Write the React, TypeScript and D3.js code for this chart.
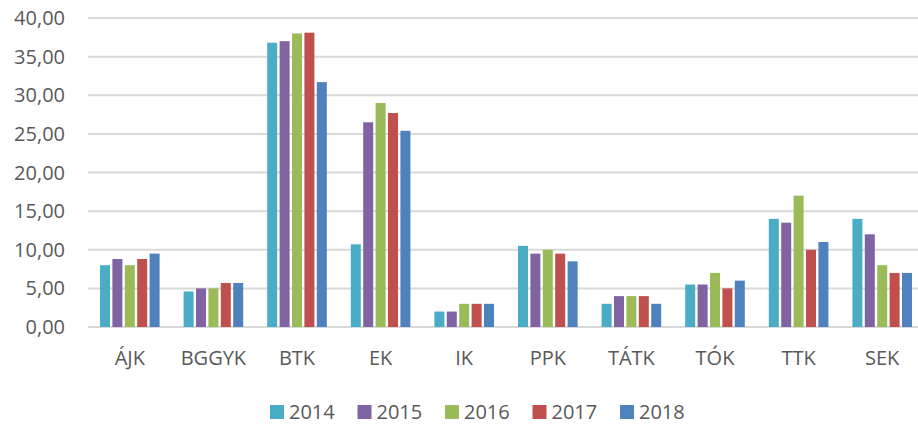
import React from "react";
import * as d3 from "d3";

const categories = ["ÁJK", "BGGYK", "BTK", "EK", "IK", "PPK", "TÁTK", "TÓK", "TTK", "SEK"];
const years = ["2014", "2015", "2016", "2017", "2018"];
const v2014 = [8.0, 4.6, 36.8, 10.7, 2.0, 10.5, 3.0, 5.5, 14.0, 14.0];
const v2015 = [8.8, 5.0, 37.0, 26.5, 2.0, 9.5, 4.0, 5.5, 13.5, 12.0];
const v2016 = [8.0, 5.0, 38.0, 29.0, 3.0, 10.0, 4.0, 7.0, 17.0, 8.0];
const v2017 = [8.8, 5.7, 38.1, 27.7, 3.0, 9.5, 4.0, 5.0, 10.0, 7.0];
const v2018 = [9.5, 5.7, 31.7, 25.4, 3.0, 8.5, 3.0, 6.0, 11.0, 7.0];
const yTicks = [0, 5, 10, 15, 20, 25, 30, 35, 40];
const colors = ["#4BACC6", "#8064A2", "#9BBB59", "#C0504D", "#4F81BD"];

const series = [v2014, v2015, v2016, v2017, v2018];

export default function App() {
  const W = 918, H = 426;
  const left = 88, top = 18, bottom = 327;
  const bandW = 83.6;
  const x = d3.scaleBand<string>().domain(categories).range([left, left + bandW * categories.length]).paddingInner(0).paddingOuter(0);
  const y = d3.scaleLinear().domain([0, 40]).range([bottom, top]);
  const groupW = 62;
  const inner = d3.scaleBand<string>().domain(years).range([0, groupW]);
  const font = "'Open Sans', sans-serif";
  const textColor = "#595959";
  const fmt = (v: number) => v.toFixed(2).replace(".", ",");
  const legendX = d3.scaleLinear().domain([0, 4]).range([270, 620]);

  return (
    <svg width={W} height={H} style={{ position: "absolute", left: 0, top: 0 }} fontFamily={font}>
      <rect width={W} height={H} fill="#fff" />
      {yTicks.map((t) => (
        <g key={t}>
          <line x1={left} x2={W} y1={y(t)} y2={y(t)} stroke="#D9D9D9" strokeWidth={2} />
          <text x={65} y={y(t)} dy="0.35em" textAnchor="end" fontSize={20} fill={textColor}>
            {fmt(t)}
          </text>
        </g>
      ))}
      {categories.map((c, i) => {
        const gx = (x(c) as number) + (bandW - groupW) / 2;
        return (
          <g key={c}>
            {series.map((s, k) => {
              const bx = gx + (inner(years[k]) as number);
              const bw = inner.bandwidth();
              return (
                <rect
                  key={k}
                  x={bx + 1.2}
                  width={bw - 2.4}
                  y={y(s[i])}
                  height={y(0) - y(s[i])}
                  fill={colors[k]}
                />
              );
            })}
            <text x={(x(c) as number) + bandW / 2} y={365} textAnchor="middle" fontSize={20} fill={textColor}>
              {c}
            </text>
          </g>
        );
      })}
      {years.map((yr, k) => (
        <g key={yr}>
          <rect x={legendX(k)} y={405} width={14} height={14} fill={colors[k]} />
          <text x={legendX(k) + 19} y={419} fontSize={20} fill={textColor}>
            {yr}
          </text>
        </g>
      ))}
    </svg>
  );
}
